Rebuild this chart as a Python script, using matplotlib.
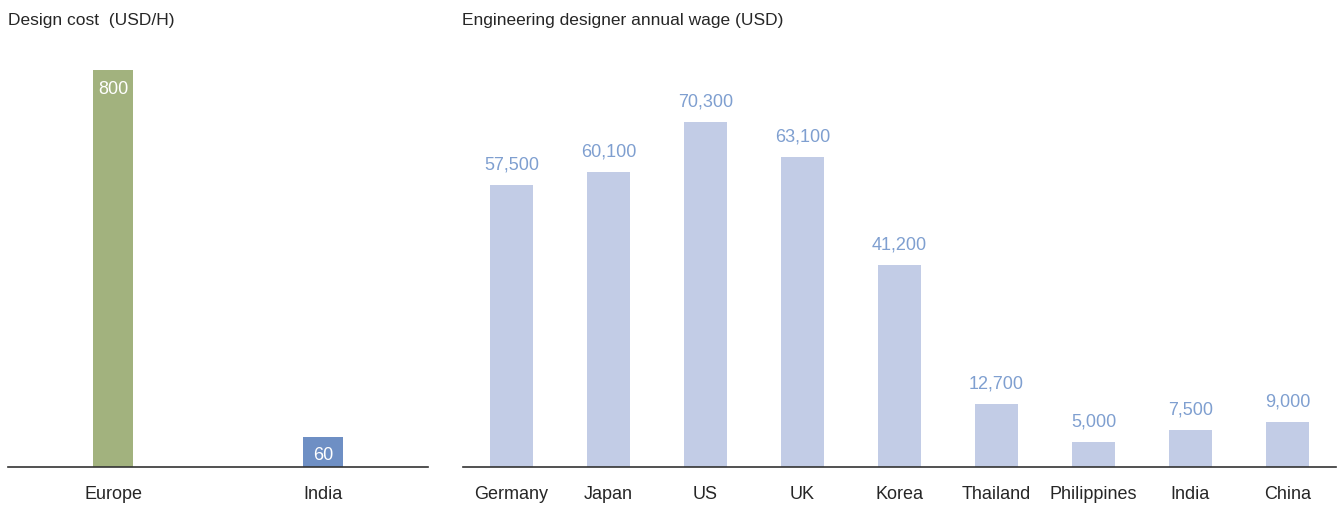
import matplotlib
matplotlib.use('Agg')
import matplotlib.pyplot as plt
from matplotlib import font_manager

# data
cost_regions = ["Europe", "India"]
cost_values = [800, 60]
cost_colors = ["#a2b27e", "#6e8fc4"]

wage_countries = ["Germany", "Japan", "US", "UK", "Korea", "Thailand", "Philippines", "India", "China"]
wage_values = [57500, 60100, 70300, 63100, 41200, 12700, 5000, 7500, 9000]

names = {f.name for f in font_manager.fontManager.ttflist}
fam = "Liberation Sans Narrow" if "Liberation Sans Narrow" in names else "Liberation Sans"
plt.rcParams['font.family'] = [fam, 'DejaVu Sans']

W, H = 1338, 506
fig = plt.figure(figsize=(W / 100, H / 100), dpi=100)

base = 467.5
top = 50

def box(x0, x1):
    return [x0 / W, (H - base) / H, (x1 - x0) / W, (base - top) / H]

text_col = "#262626"

# left panel
ax1 = fig.add_axes(box(8, 428))
x1 = range(len(cost_regions))
ax1.bar(x1, cost_values, width=0.195, color=cost_colors)
ax1.set_xlim(-0.5, 1.5)
ax1.set_ylim(0, 842)
for x, v in zip(x1, cost_values):
    ax1.annotate(f"{v}", (x, v), xytext=(0, -7), textcoords="offset points",
                 ha="center", va="top", color="white", fontsize=13)
ax1.set_xticks(list(x1))
ax1.set_xticklabels(cost_regions, fontsize=13, color=text_col)
fig.text(8 / W, 1 - 21 / H, "Design cost  (USD/H)", fontsize=12.5, color=text_col,
         ha="left", va="center")

# right panel
ax2 = fig.add_axes(box(463, 1336))
x2 = range(len(wage_countries))
ax2.bar(x2, wage_values, width=0.433, color="#c2cce6")
ax2.set_xlim(-0.5, len(wage_countries) - 0.5)
ax2.set_ylim(0, 85220)
for x, v in zip(x2, wage_values):
    ax2.annotate(f"{v:,}", (x, v), xytext=(0, 9), textcoords="offset points",
                 ha="center", va="bottom", color="#7f9fd0", fontsize=13)
ax2.set_xticks(list(x2))
ax2.set_xticklabels(wage_countries, fontsize=13, color=text_col)
fig.text(462 / W, 1 - 21 / H, "Engineering designer annual wage (USD)", fontsize=12.5,
         color=text_col, ha="left", va="center")

for ax in (ax1, ax2):
    for s in ("top", "left", "right"):
        ax.spines[s].set_visible(False)
    ax.spines["bottom"].set_color("#333333")
    ax.spines["bottom"].set_linewidth(1.2)
    ax.set_yticks([])
    ax.tick_params(axis="x", length=0, pad=13.5)

fig.savefig("out.png", dpi=100)
